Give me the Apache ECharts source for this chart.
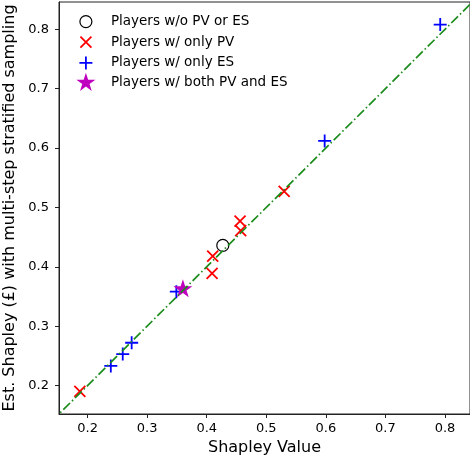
<!DOCTYPE html>
<html>
<head>
<meta charset="utf-8">
<script src="https://cdn.jsdelivr.net/npm/echarts@6/dist/echarts.min.js"></script>
<style>
  html, body { margin: 0; padding: 0; background: #fff; }
  #chart { width: 470px; height: 458px; }
</style>
</head>
<body>
<div id="chart"></div>
<script>
// values
const noneX = [0.427]
const noneY = [0.436]
const pvX = [0.187, 0.409, 0.410, 0.456, 0.457, 0.530]
const pvY = [0.190, 0.389, 0.418, 0.477, 0.461, 0.527]
const esX = [0.239, 0.259, 0.274, 0.349, 0.598, 0.792]
const esY = [0.233, 0.253, 0.272, 0.358, 0.612, 0.808]
const bothX = [0.360]
const bothY = [0.362]
const refLine = [0.1, 0.9] // y = x
const ticks = [0.2, 0.3, 0.4, 0.5, 0.6, 0.7, 0.8]
const names = ['Players w/o PV or ES', 'Players w/ only PV', 'Players w/ only ES', 'Players w/ both PV and ES']

const zip = (xs, ys) => xs.map((x, i) => [x, ys[i]])

const FONT = 'DejaVu Sans'
const AXIS_COLOR = '#222'

// marker shapes (drawn at ~1:1 scale so stroke widths stay as set)
const crossPath = 'path://M0,0L11,11M11,0L0,11'
const plusPath = 'path://M0,6.5L13,6.5M6.5,0L6.5,13'
const starPath = 'path://M10,0L12.245,6.91L19.51,6.91L13.63,11.18L15.88,18.09L10,13.82L4.12,18.09L6.37,11.18L0.49,6.91L7.755,6.91Z'

// legend icons: padded to a 40x20 box so each glyph keeps its own size
const pad = 'M0,0M40,20'
const legCircle = 'path://' + pad + 'M26,10A6,6,0,1,1,14,10A6,6,0,1,1,26,10Z'
const legCross = 'path://' + pad + 'M14.5,4.5L25.5,15.5M25.5,4.5L14.5,15.5'
const legPlus = 'path://' + pad + 'M13.5,10L26.5,10M20,3.5L20,16.5'
const legStar = 'path://' + pad + 'M20,0L22.245,6.91L29.51,6.91L23.63,11.18L25.88,18.09L20,13.82L14.12,18.09L16.37,11.18L10.49,6.91L17.755,6.91Z'

const chart = echarts.init(document.getElementById('chart'))

const axisCommon = {
  type: 'value',
  nameLocation: 'middle',
  nameTextStyle: { fontFamily: FONT, fontSize: 16, color: '#000' },
  axisLine: { show: true, lineStyle: { color: AXIS_COLOR, width: 1 } },
  axisTick: { show: true, inside: false, length: 4, lineStyle: { color: AXIS_COLOR, width: 1 }, customValues: ticks },
  axisLabel: { fontFamily: FONT, fontSize: 13, color: '#000', customValues: ticks, formatter: v => v.toFixed(1) },
  splitLine: { show: false },
}

chart.setOption({
  animation: false,
  backgroundColor: '#fff',
  grid: {
    left: 59, top: 2, width: 411, height: 412,
    outerBoundsMode: 'none', containLabel: false,
    show: true, borderColor: AXIS_COLOR, borderWidth: 1, backgroundColor: 'transparent',
  },
  xAxis: Object.assign({}, axisCommon, {
    min: 0.152, max: 0.842,
    name: 'Shapley Value', nameGap: 24,
    axisLabel: Object.assign({}, axisCommon.axisLabel, { margin: 8 }),
  }),
  yAxis: Object.assign({}, axisCommon, {
    min: 0.152, max: 0.846,
    name: 'Est. Shapley (£) with multi-step stratified sampling', nameGap: 33,
    axisLabel: Object.assign({}, axisCommon.axisLabel, { margin: 10 }),
  }),
  legend: {
    left: 65, top: 11, padding: 0,
    orient: 'vertical',
    itemWidth: 40, itemHeight: 20, itemGap: -1,
    textStyle: { fontFamily: FONT, fontSize: 13.5, color: '#000', lineHeight: 16 },
    data: [
      { name: names[0], icon: legCircle, itemStyle: { color: 'rgba(0,0,0,0)', borderColor: '#000', borderWidth: 1.2 } },
      { name: names[1], icon: legCross, itemStyle: { color: 'rgba(0,0,0,0)', borderColor: '#ff0000', borderWidth: 1.8 } },
      { name: names[2], icon: legPlus, itemStyle: { color: 'rgba(0,0,0,0)', borderColor: '#0000ff', borderWidth: 1.8 } },
      { name: names[3], icon: legStar, itemStyle: { color: '#bf00bf', borderColor: '#bf00bf', borderWidth: 0 } },
    ],
  },
  series: [
    {
      name: names[0], type: 'scatter', data: zip(noneX, noneY),
      symbol: 'circle', symbolSize: 12,
      itemStyle: { color: 'rgba(0,0,0,0)', borderColor: '#000', borderWidth: 1.2, opacity: 1 },
    },
    {
      name: names[1], type: 'scatter', data: zip(pvX, pvY),
      symbol: crossPath, symbolSize: 11,
      itemStyle: { color: 'rgba(0,0,0,0)', borderColor: '#ff0000', borderWidth: 1.8, opacity: 1 },
    },
    {
      name: names[2], type: 'scatter', data: zip(esX, esY),
      symbol: plusPath, symbolSize: 13,
      itemStyle: { color: 'rgba(0,0,0,0)', borderColor: '#0000ff', borderWidth: 1.8, opacity: 1 },
    },
    {
      name: names[3], type: 'scatter', data: zip(bothX, bothY),
      symbol: starPath, symbolSize: [19, 18], symbolOffset: [0, -1],
      itemStyle: { color: '#bf00bf', borderWidth: 0, opacity: 1 },
    },
    {
      type: 'line', data: zip(refLine, refLine),
      symbol: 'none', clip: true, silent: true,
      lineStyle: { color: '#1a8c1a', width: 1.7, type: [9.5, 2.8, 1.5, 2.8] },
    },
  ],
})
</script>
</body>
</html>
